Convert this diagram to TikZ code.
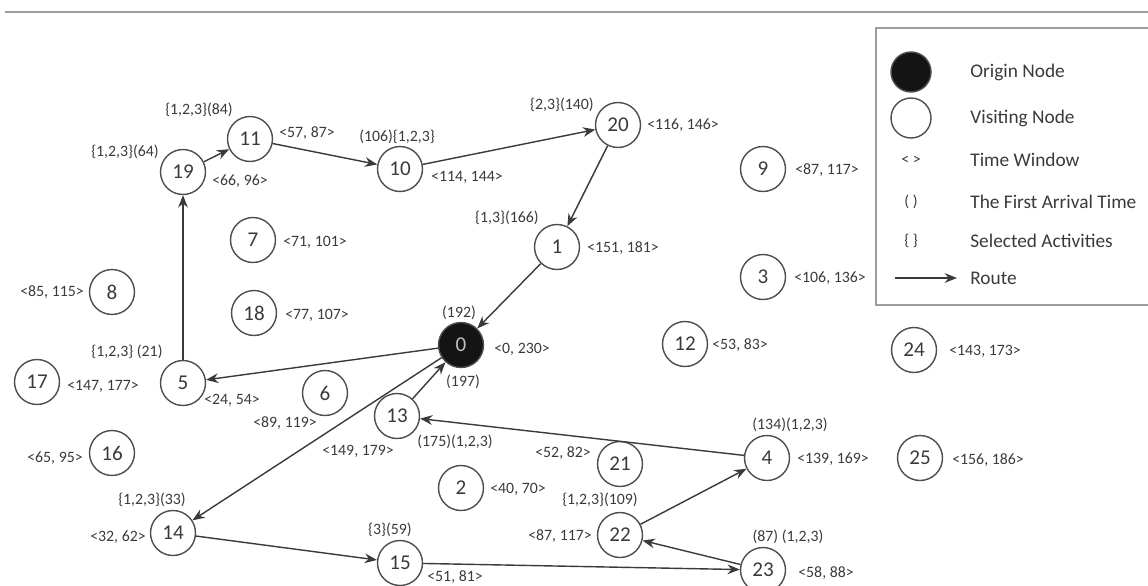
\documentclass[tikz,border=0pt]{standalone}
\usepackage{fontspec}
\setmainfont{Carlito}
\usetikzlibrary{arrows.meta}
\definecolor{inkgray}{HTML}{3A3A3A}
\definecolor{rulegray}{HTML}{9C9C9C}

\begin{document}
\begin{tikzpicture}[x=0.02cm, y=-0.02cm,
        visitnode/.style={circle, draw=inkgray!90, line width=0.8pt, minimum size=0.9cm, inner sep=0pt, text=inkgray, font=\fontsize{12}{12}\selectfont},
        originnode/.style={visitnode, fill=black!92, text=white!75!black},
        lbl/.style={inner sep=0pt, text=inkgray, font=\fontsize{9}{10}\selectfont},
        legtext/.style={anchor=west, inner sep=0pt, text=inkgray, font=\fontsize{11}{12}\selectfont},
        route/.style={draw=inkgray, line width=0.8pt, -{Stealth[length=7pt,width=5.5pt]}},
        ]
        \useasboundingbox (0,0) rectangle (1148,585);

        % Top rule and legend frame
        \draw[rulegray, line width=0.8pt] (5,12) -- (1148,12);
        \draw[rulegray, line width=0.8pt] (1152,28) -- (876,28) -- (876,305) -- (1152,305);

        % Legend
        \node[originnode, minimum size=0.8cm] (legorigin) at (911,72) { };
        \node[visitnode, minimum size=0.8cm] (legvisit) at (911,118) { };
        \node[lbl] (legtw) at (911,160) {< >};
        \node[lbl] (legat) at (911,202) {( )};
        \node[lbl] (legact) at (911,241) {\{ \}};
        \coordinate (legstart) at (895,278);
        \coordinate (legend) at (957,278);
        \draw[route] (legstart) -- (legend);
        \node[legtext] (txtorigin) at (970,72) {Origin Node};
        \node[legtext] (txtvisit) at (970,118) {Visiting Node};
        \node[legtext] (txttw) at (970,160) {Time Window};
        \node[legtext] (txtat) at (970,202) {The First Arrival Time};
        \node[legtext] (txtact) at (970,241) {Selected Activities};
        \node[legtext] (txtroute) at (970,278) {Route};

        % Origin
        \node[originnode] (n0) at (461,345) {0};

        % Visiting nodes
        \node[visitnode] (n1) at (557,247) {1};
        \node[visitnode] (n2) at (461,488) {2};
        \node[visitnode] (n3) at (763,277) {3};
        \node[visitnode] (n4) at (767,458) {4};
        \node[visitnode] (n5) at (183,383) {5};
        \node[visitnode] (n6) at (325,393) {6};
        \node[visitnode] (n7) at (253,240) {7};
        \node[visitnode] (n8) at (112,292) {8};
        \node[visitnode] (n9) at (763,169) {9};
        \node[visitnode] (n10) at (400,169) {10};
        \node[visitnode] (n11) at (250,139) {11};
        \node[visitnode] (n12) at (685,344) {12};
        \node[visitnode] (n13) at (397,416) {13};
        \node[visitnode] (n14) at (173,533) {14};
        \node[visitnode] (n15) at (400,563) {15};
        \node[visitnode] (n16) at (112,453) {16};
        \node[visitnode] (n17) at (37,382) {17};
        \node[visitnode] (n18) at (254,313) {18};
        \node[visitnode] (n19) at (183,172) {19};
        \node[visitnode] (n20) at (618,125) {20};
        \node[visitnode] (n21) at (620,464) {21};
        \node[visitnode] (n22) at (620,535) {22};
        \node[visitnode] (n23) at (763,570) {23};
        \node[visitnode] (n24) at (914,350) {24};
        \node[visitnode] (n25) at (920,458) {25};

        % Time windows
        \node[lbl] (tw0) at (522,349) {<0, 230>};
        \node[lbl] (tw1) at (623,248) {<151, 181>};
        \node[lbl] (tw2) at (518,489) {<40, 70>};
        \node[lbl] (tw3) at (830,278) {<106, 136>};
        \node[lbl] (tw4) at (833,459) {<139, 169>};
        \node[lbl] (tw5) at (232,400) {<24, 54>};
        \node[lbl] (tw6) at (285,423) {<89, 119>};
        \node[lbl] (tw7) at (315,242) {<71, 101>};
        \node[lbl] (tw8) at (52,292) {<85, 115>};
        \node[lbl] (tw9) at (827,170) {<87, 117>};
        \node[lbl] (tw10) at (467,177) {<114, 144>};
        \node[lbl] (tw11) at (307,133) {<57, 87>};
        \node[lbl] (tw12) at (740,345) {<53, 83>};
        \node[lbl] (tw13) at (358,451) {<149, 179>};
        \node[lbl] (tw14) at (118,537) {<32, 62>};
        \node[lbl] (tw15) at (455,577) {<51, 81>};
        \node[lbl] (tw16) at (55,458) {<65, 95>};
        \node[lbl] (tw17) at (103,386) {<147, 177>};
        \node[lbl] (tw18) at (317,315) {<77, 107>};
        \node[lbl] (tw19) at (240,181) {<66, 96>};
        \node[lbl] (tw20) at (683,125) {<116, 146>};
        \node[lbl] (tw21) at (563,453) {<52, 82>};
        \node[lbl] (tw22) at (560,536) {<87, 117>};
        \node[lbl] (tw23) at (826,573) {<58, 88>};
        \node[lbl] (tw24) at (985,351) {<143, 173>};
        \node[lbl] (tw25) at (988,460) {<156, 186>};

        % Arrival times and activities
        \node[lbl] (at0a) at (459,313) {(192)};
        \node[lbl] (at0b) at (463,382) {(197)};
        \node[lbl] (at1) at (507,218) {\{1,3\}(166)};
        \node[lbl] (at4) at (790,425) {(134)(1,2,3)};
        \node[lbl] (at5) at (127,352) {\{1,2,3\} (21)};
        \node[lbl] (at10) at (397,137) {(106)\{1,2,3\}};
        \node[lbl] (at11) at (199,110) {\{1,2,3\}(84)};
        \node[lbl] (at13) at (455,442) {(175)(1,2,3)};
        \node[lbl] (at14) at (152,500) {\{1,2,3\}(33)};
        \node[lbl] (at15) at (390,530) {\{3\}(59)};
        \node[lbl] (at19) at (125,152) {\{1,2,3\}(64)};
        \node[lbl] (at20) at (562,105) {\{2,3\}(140)};
        \node[lbl] (at22) at (600,500) {\{1,2,3\}(109)};
        \node[lbl] (at23) at (788,537) {(87) (1,2,3)};

        % First tour
        \draw[route] (n0) -- (n5);
        \draw[route] (n5) -- (n19);
        \draw[route] (n19) -- (n11);
        \draw[route] (n11) -- (n10);
        \draw[route] (n10) -- (n20);
        \draw[route] (n20) -- (n1);
        \draw[route] (n1) -- (n0);

        % Second tour
        \draw[route] (n0) -- (n14);
        \draw[route] (n14) -- (n15);
        \draw[route] (n15) -- (n23);
        \draw[route] (n23) -- (n22);
        \draw[route] (n22) -- (n4);
        \draw[route] (n4) -- (n13);
        \draw[route] (n13) -- (n0);

    \end{tikzpicture}
\end{document}
